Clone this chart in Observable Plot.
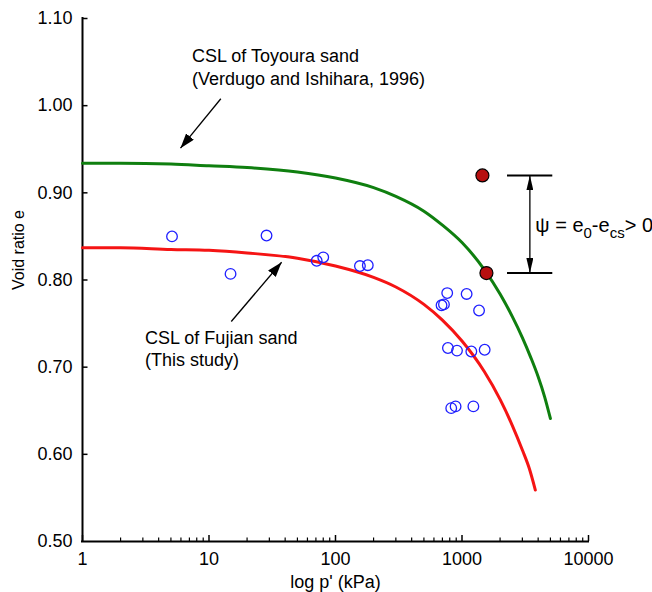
<!DOCTYPE html>
<html>
<head>
<meta charset="utf-8">
<script src="https://cdn.jsdelivr.net/npm/d3@7"></script>
<script src="https://cdn.jsdelivr.net/npm/@observablehq/plot@0.6"></script>
<style>
  body { margin: 0; background: #fff; }
  #chart svg { display: block; }
</style>
</head>
<body>
<div id="chart"></div>
<script>
// Fujian sand tests: mean effective stress p' (kPa) and void ratio e
const testP = [5.1, 14.8, 28.5, 71, 80, 156, 180, 764, 1088, 689, 720, 1364, 774, 913, 1185, 1511, 822, 890, 1230];
const testE = [0.850, 0.807, 0.851, 0.822, 0.826, 0.816, 0.817, 0.785, 0.784, 0.771, 0.772, 0.765, 0.722, 0.719, 0.718, 0.720, 0.653, 0.655, 0.655];

// Critical state line of Toyoura sand (Verdugo and Ishihara, 1996)
const toyouraP = [1, 2, 5, 10, 20, 50, 100, 200, 300, 500, 700, 1000, 1500, 2000, 2500, 3000, 3500, 4000, 4500, 5000];
const toyouraE = [0.934, 0.934, 0.933, 0.931, 0.929, 0.924, 0.917, 0.906, 0.896, 0.879, 0.863, 0.843, 0.812, 0.784, 0.758, 0.734, 0.711, 0.689, 0.666, 0.641];

// Critical state line of Fujian sand
const fujianP = [1, 2, 5, 10, 20, 50, 100, 200, 300, 500, 700, 1000, 1500, 2000, 2500, 3000, 3400, 3800];
const fujianE = [0.837, 0.837, 0.835, 0.834, 0.831, 0.825, 0.816, 0.803, 0.792, 0.772, 0.754, 0.730, 0.695, 0.663, 0.633, 0.605, 0.584, 0.559];

// State parameter example: initial state and critical state at the same p'
const stateP = [1450, 1560];
const stateE = [0.920, 0.808];

// psi bracket: end bars and double arrow
const bracketP1 = 2290, bracketP2 = 5220, bracketArrowP = 3440;

// Annotations (last-line baseline at noteE)
const noteText = ["CSL of Toyoura sand\n(Verdugo and Ishihara, 1996)", "CSL of Fujian sand\n(This study)"];
const noteP = [7.33, 3.12];
const noteE = [1.0242, 0.7008];
const pointerP1 = [12.4, 15.0], pointerE1 = [1.0079, 0.7524];
const pointerP2 = [5.95, 37.5], pointerE2 = [0.9512, 0.8204];

const psiParts = ["ψ = e", "0", "-e", "cs", "> 0"];
const psiSub = [false, true, false, true, false];
const psiP = 3800, psiE = 0.8548;

// Axis ticks
const xMajor = [1, 10, 100, 1000, 10000];
const xMinor = [];
for (const k of [1, 10, 100, 1000]) for (let m = 2; m <= 9; m++) xMinor.push(m * k);
const yTicks = [0.5, 0.6, 0.7, 0.8, 0.9, 1.0, 1.1];
const yInner = yTicks.slice(1);

const font = "Helvetica, Arial, 'Liberation Sans', sans-serif";

const toyoura = toyouraP.map((p, i) => ({p, e: toyouraE[i]}));
const fujian = fujianP.map((p, i) => ({p, e: fujianE[i]}));
const tests = testP.map((p, i) => ({p, e: testE[i]}));
const states = stateP.map((p, i) => ({p, e: stateE[i]}));
const notes = noteText.map((t, i) => ({t, p: noteP[i], e: noteE[i]}));
const pointers = pointerP1.map((p, i) => ({p1: p, e1: pointerE1[i], p2: pointerP2[i], e2: pointerE2[i]}));
const psiLabel = psiParts.join("");

const plot = Plot.plot({
  width: 652,
  height: 592,
  marginLeft: 82,
  marginRight: 64,
  marginTop: 18,
  marginBottom: 51,
  style: {fontFamily: font, fontSize: "18px", color: "#000", background: "#fff", overflow: "visible"},
  x: {type: "log", domain: [1, 10000]},
  y: {domain: [0.5, 1.1]},
  marks: [
    Plot.axisX({ticks: xMajor, tickSize: 0, tickPadding: 11, tickFormat: d => String(d), fontSize: 18, label: null}),
    Plot.axisY({ticks: yTicks, tickSize: 0, tickPadding: 10, tickFormat: d3.format(".2f"), fontSize: 18, label: null}),
    // inward tick marks
    Plot.ruleX(xMinor, {x: d => d, y1: 0.5, y2: 0.5, insetTop: -3.5, strokeWidth: 1.2}),
    Plot.ruleX(xMajor, {x: d => d, y1: 0.5, y2: 0.5, insetTop: -6, strokeWidth: 1.5}),
    Plot.ruleY(yInner, {y: d => d, x1: 1, x2: 1, insetRight: -5.5, strokeWidth: 1.5}),
    // axis lines
    Plot.ruleX([1], {strokeWidth: 2, strokeLinecap: "square"}),
    Plot.ruleY([0.5], {strokeWidth: 2, strokeLinecap: "square"}),
    // axis titles
    Plot.text(["log p' (kPa)"], {text: d => d, frameAnchor: "bottom", dy: 41, lineAnchor: "middle", textAnchor: "middle", fontSize: 18}),
    Plot.text(["Void ratio e"], {text: d => d, frameAnchor: "left", rotate: -90, dx: -64, dy: -30, lineAnchor: "middle", textAnchor: "middle", fontSize: 16}),
    // critical state lines
    Plot.line(toyoura, {x: "p", y: "e", stroke: "#0f7f0f", strokeWidth: 3, curve: "monotone-x"}),
    Plot.line(fujian, {x: "p", y: "e", stroke: "#f51414", strokeWidth: 3, curve: "monotone-x"}),
    // test results
    Plot.dot(tests, {x: "p", y: "e", r: 5.3, stroke: "#1f1fff", strokeWidth: 1.3, fill: "none"}),
    // state parameter bracket
    Plot.ruleY(stateE, {y: d => d, x1: bracketP1, x2: bracketP2, strokeWidth: 2}),
    Plot.link([0], {x1: bracketArrowP, x2: bracketArrowP, y1: stateE[0], y2: stateE[1], strokeWidth: 1.3}),
    Plot.dot(states, {x: "p", y: "e", r: 6.5, fill: "#b70f0f", stroke: "#000", strokeWidth: 1.2}),
    Plot.text([psiLabel], {text: d => d, x: psiP, y: psiE, textAnchor: "start", lineAnchor: "bottom", fontSize: 20}),
    // annotations
    Plot.text(notes, {x: "p", y: "e", text: "t", textAnchor: "start", lineAnchor: "bottom", lineHeight: 1.25, fontSize: 18}),
    Plot.link(pointers, {x1: "p1", y1: "e1", x2: "p2", y2: "e2", strokeWidth: 1.3})
  ]
});

document.getElementById("chart").appendChild(plot);

// filled arrowheads for the pointer arrows and the psi double arrow
const svg = d3.select(plot);
const defs = svg.insert("defs", ":first-child");
function head(id, len, wid) {
  defs.append("marker")
    .attr("id", id)
    .attr("viewBox", `0 0 ${len} ${wid}`)
    .attr("refX", len).attr("refY", wid / 2)
    .attr("markerWidth", len).attr("markerHeight", wid)
    .attr("markerUnits", "userSpaceOnUse")
    .attr("orient", "auto-start-reverse")
    .append("path")
    .attr("d", `M0,0L${len},${wid / 2}L0,${wid}Z`)
    .attr("fill", "#000");
}
head("pointer-head", 15, 10);
head("psi-head", 15, 7);
const linkGroups = svg.selectAll('g[aria-label="link"]').nodes();
if (linkGroups.length === 2) {
  d3.select(linkGroups[0]).selectAll("path")
    .attr("marker-start", "url(#psi-head)")
    .attr("marker-end", "url(#psi-head)");
  d3.select(linkGroups[1]).selectAll("path").attr("marker-end", "url(#pointer-head)");
}

// subscripts in the psi label
svg.selectAll("text").filter(function () { return this.textContent === psiLabel; }).each(function () {
  const t = d3.select(this);
  t.text(null);
  let shifted = false;
  psiParts.forEach((s, i) => {
    const span = t.append("tspan").text(s);
    if (psiSub[i]) {
      span.attr("font-size", 15);
      if (!shifted) { span.attr("dy", 6); shifted = true; }
    } else if (shifted) {
      span.attr("dy", -6);
      shifted = false;
    }
  });
});
</script>
</body>
</html>
